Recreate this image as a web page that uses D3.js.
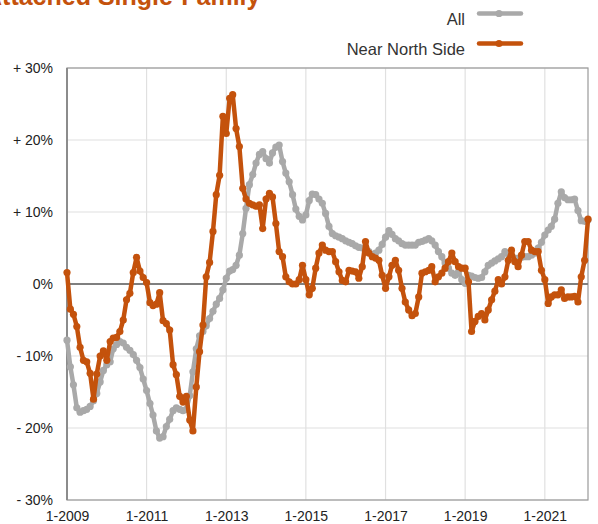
<!DOCTYPE html>
<html>
<head>
<meta charset="utf-8">
<script src="https://cdn.jsdelivr.net/npm/d3@7"></script>
<style>
    body { margin: 0; background: #fff; }
    svg { display: block; font-family: 'Liberation Sans', Arial, Helvetica, sans-serif; }
</style>
</head>
<body>
<svg id="chart" width="598" height="524"></svg>
<script>
var title = 'Attached Single-Family';
var seriesNames = ['All', 'Near North Side'];
var startMonth = '2009-01';
var yTicks = [-30, -20, -10, 0, 10, 20, 30];
var xTickLabels = ['1-2009', '1-2011', '1-2013', '1-2015', '1-2017', '1-2019', '1-2021'];

// year-over-year change, monthly, 1-2009 .. 2-2022
var allValues = [
    -7.8, -11.5, -14.0, -17.2, -17.8, -17.6, -17.4, -17.0, -16.2, -15.2,
    -13.6, -12.0, -11.2, -10.8, -9.0, -8.4, -8.0, -8.2, -8.8, -9.2,
    -9.8, -10.6, -11.6, -13.2, -14.8, -16.6, -18.2, -20.4, -21.4, -21.2,
    -19.8, -18.8, -17.6, -17.2, -17.4, -17.6, -17.4, -15.5, -12.2, -9.0,
    -7.2, -6.6, -5.8, -4.8, -3.8, -2.8, -2.0, -0.8, 0.8, 1.8,
    2.0, 2.6, 4.0, 7.0, 10.5, 13.8, 15.2, 16.8, 18.0, 18.4,
    17.4, 16.8, 18.2, 19.0, 19.3, 17.0, 15.4, 14.2, 12.4, 10.4,
    9.4, 8.9, 9.6, 11.6, 12.5, 12.4, 11.8, 11.2, 9.8, 8.0,
    7.0, 6.7, 6.5, 6.3, 6.0, 5.8, 5.6, 5.3, 5.1, 5.0,
    5.0, 4.5, 4.1, 4.3, 4.7, 5.5, 6.5, 7.4, 6.9, 6.3,
    6.0, 5.6, 5.4, 5.4, 5.4, 5.4, 5.8, 5.9, 6.1, 6.3,
    6.0, 5.4, 4.5, 3.8, 2.9, 2.2, 1.5, 1.2, 1.7, 0.6,
    0.1, 1.2, 1.1, 0.9, 0.8, 0.9, 1.7, 2.6, 2.9, 3.2,
    3.5, 3.8, 4.5, 4.1, 3.8, 3.6, 3.6, 3.7, 3.8, 3.8,
    4.0, 4.3, 5.0, 5.8, 6.8, 7.5, 8.0, 9.0, 11.2, 12.8,
    12.0, 11.7, 11.7, 11.8, 10.2, 8.8, 8.7, 8.9
];

var nearNorthValues = [
    1.6, -3.5, -4.2, -5.9, -8.8, -10.6, -10.8, -12.4, -16.0, -12.5,
    -10.0, -9.3, -10.6, -8.0, -7.5, -7.4, -6.6, -5.0, -2.2, -1.3,
    1.6, 3.7, 1.8, 0.9, 0.2, -2.6, -3.0, -2.8, -1.2, -5.1,
    -5.5, -6.4, -11.2, -12.6, -15.6, -16.4, -15.6, -18.9, -20.4, -14.3,
    -9.4, -5.7, 1.0, 3.0, 7.3, 12.4, 15.1, 23.3, 20.9, 25.8,
    26.3, 21.6, 19.1, 13.3, 11.8, 11.2, 11.0, 10.8, 11.0, 7.7,
    11.8, 12.6, 12.1, 8.4, 4.5, 3.8, 1.0, 0.3, 0.0, 0.0,
    0.6, 2.6, 0.6, -1.5, -0.6, 2.2, 4.3, 5.4, 4.7, 4.5,
    4.5, 3.1, 1.7, 0.5, 0.3, 1.9, 1.8, 1.7, 0.8, 2.4,
    5.9, 4.3, 3.8, 3.6, 3.3, 1.2, -0.6, 1.0, 2.6, 3.3,
    1.9, -0.6, -2.5, -3.6, -4.4, -4.1, -1.8, 1.5, 1.7, 1.9,
    2.4, 0.3, 1.0, 1.5, 2.2, 3.1, 4.3, 3.1, 2.4, 2.2,
    2.2, 0.3, -6.6, -5.2, -4.5, -4.1, -5.0, -3.6, -2.2, -1.0,
    0.6, 0.0, 1.0, 3.3, 4.7, 3.1, 2.4, 4.0, 5.9, 5.9,
    4.7, 4.5, 4.5, 1.9, 0.6, -2.7, -1.8, -1.5, -1.5, -0.8,
    -2.0, -1.8, -1.8, -1.7, -2.5, 1.0, 3.3, 9.0
];

var colors = ['#a9a9a9', '#c4520c'];

var svg = d3.select('#chart'),
    margin = {top: 68, right: 10, bottom: 24, left: 67},
    width = +svg.attr('width') - margin.left - margin.right,
    height = +svg.attr('height') - margin.top - margin.bottom,
    g = svg.append('g').attr('transform', 'translate(' + margin.left + ',' + margin.top + ')');

var parseMonth = d3.timeParse('%Y-%m');
var start = parseMonth(startMonth);
var months = allValues.map(function(d, i) {
    return d3.timeMonth.offset(start, i);
});

var x = d3.scaleTime()
    .domain([months[0], months[months.length - 1]])
    .range([0, width]);

var y = d3.scaleLinear()
    .domain([-30, 30])
    .range([height, 0]);

var xTicks = xTickLabels.map(function(d) {
    var p = d.split('-');
    return new Date(+p[1], +p[0] - 1, 1);
});

// grid
g.append('g')
    .selectAll('line')
    .data(yTicks)
    .enter().append('line')
    .attr('x1', 0)
    .attr('x2', width)
    .attr('y1', function(d) { return y(d); })
    .attr('y2', function(d) { return y(d); })
    .attr('stroke', '#e0e0e0')
    .attr('stroke-width', 1.2);

g.append('g')
    .selectAll('line')
    .data(xTicks)
    .enter().append('line')
    .attr('x1', function(d) { return x(d); })
    .attr('x2', function(d) { return x(d); })
    .attr('y1', 0)
    .attr('y2', height)
    .attr('stroke', '#e0e0e0')
    .attr('stroke-width', 1.2);

// frame
g.append('rect')
    .attr('width', width)
    .attr('height', height)
    .attr('fill', 'none')
    .attr('stroke', '#9a9a9a')
    .attr('stroke-width', 1.2);

g.append('line')
    .attr('x1', 0)
    .attr('x2', 0)
    .attr('y1', 0)
    .attr('y2', height)
    .attr('stroke', '#8c8c8c')
    .attr('stroke-width', 2);

g.append('line')
    .attr('x1', 0)
    .attr('x2', width)
    .attr('y1', y(0))
    .attr('y2', y(0))
    .attr('stroke', '#7f7f7f')
    .attr('stroke-width', 2);

// axes labels
var yAxis = g.append('g')
    .call(d3.axisLeft(y).tickValues(yTicks).tickSize(0).tickPadding(14)
        .tickFormat(function(d) {
            if (d > 0) return '+ ' + d + '%';
            if (d < 0) return '- ' + Math.abs(d) + '%';
            return '0%';
        }));
yAxis.select('.domain').remove();
yAxis.selectAll('text')
    .attr('font-size', 14)
    .attr('font-family', "'Liberation Sans', Arial, sans-serif")
    .attr('fill', '#222');

var xAxis = g.append('g')
    .attr('transform', 'translate(0,' + height + ')')
    .call(d3.axisBottom(x).tickValues(xTicks).tickSize(0).tickPadding(11)
        .tickFormat(function(d, i) { return xTickLabels[i]; }));
xAxis.select('.domain').remove();
xAxis.selectAll('text')
    .attr('font-size', 14)
    .attr('font-family', "'Liberation Sans', Arial, sans-serif")
    .attr('fill', '#222');

// series
var series = [allValues, nearNorthValues];
var line = d3.line()
    .x(function(d, i) { return x(months[i]); })
    .y(function(d) { return y(d); });

series.forEach(function(values, s) {
    var sg = g.append('g');
    sg.append('path')
        .datum(values)
        .attr('fill', 'none')
        .attr('stroke', colors[s])
        .attr('stroke-width', 4.5)
        .attr('stroke-linejoin', 'round')
        .attr('d', line);
    sg.selectAll('circle')
        .data(values)
        .enter().append('circle')
        .attr('cx', function(d, i) { return x(months[i]); })
        .attr('cy', function(d) { return y(d); })
        .attr('r', 3.6)
        .attr('fill', colors[s]);
});

// title (clipped at top-left like the source)
svg.append('text')
    .attr('x', -16)
    .attr('y', 5)
    .attr('font-size', 25)
    .attr('font-weight', 'bold')
    .attr('fill', colors[1])
    .text(title);

// legend
var legend = svg.append('g')
    .selectAll('g')
    .data(seriesNames)
    .enter().append('g')
    .attr('transform', function(d, i) {
        return 'translate(0,' + (i * 30) + ')';
    });

legend.append('text')
    .attr('x', 465)
    .attr('y', 25)
    .attr('text-anchor', 'end')
    .attr('font-size', 16.5)
    .attr('fill', '#333')
    .text(function(d) { return d; });

legend.append('line')
    .attr('x1', 479)
    .attr('x2', 521)
    .attr('y1', 13.5)
    .attr('y2', 13.5)
    .attr('stroke', function(d, i) { return colors[i]; })
    .attr('stroke-width', 4.5)
    .attr('stroke-linecap', 'round');

legend.append('circle')
    .attr('cx', 499)
    .attr('cy', 13.5)
    .attr('r', 3.6)
    .attr('fill', function(d, i) { return colors[i]; });
</script>
</body>
</html>
